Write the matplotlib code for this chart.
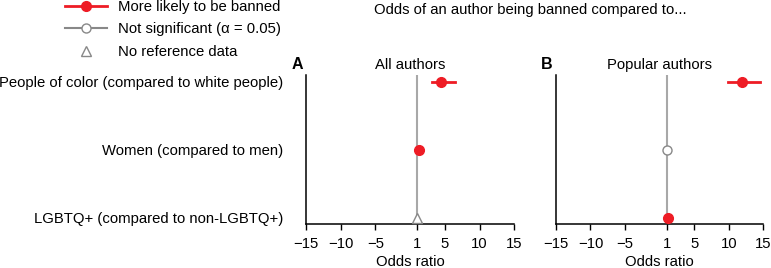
import matplotlib
matplotlib.use("Agg")
import matplotlib.pyplot as plt
from matplotlib.lines import Line2D

plt.rcParams['font.family'] = ['Liberation Sans', 'DejaVu Sans']
plt.rcParams['font.size'] = 10.7

# data
groups = ['People of color (compared to white people)',
          'Women (compared to men)',
          'LGBTQ+ (compared to non-LGBTQ+)']
ypos = [2, 1, 0]

# panel A: all authors  (status: sig / ns / noref)
a_or = [4.5, 1.3, 1.0]
a_lo = [3.2, 1.3, 1.0]
a_hi = [6.5, 1.3, 1.0]
a_status = ['sig', 'sig', 'noref']

# panel B: popular authors
b_or = [11.9, 1.0, 1.2]
b_lo = [9.9, 1.0, 1.2]
b_hi = [14.5, 1.0, 1.2]
b_status = ['sig', 'ns', 'sig']

xticks = [-15, -10, -5, 1, 5, 10, 15]
xticklabels = ['\u221215', '\u221210', '\u22125', '1', '5', '10', '15']

RED = '#ee1c25'
GRAY = '#a8a8a8'

fig = plt.figure(figsize=(7.71, 2.68), dpi=100)
axA = fig.add_axes([0.397, 0.164, 0.270, 0.556])
axB = fig.add_axes([0.721, 0.164, 0.269, 0.556])


def draw(ax, vals, lo, hi, status, letter, title, show_labels):
    ax.axvline(1, color=GRAY, lw=1.5, zorder=1)
    for y, v, l, h, s in zip(ypos, vals, lo, hi, status):
        if s == 'sig':
            ax.plot([l, h], [y, y], color=RED, lw=2, zorder=2)
            ax.plot(v, y, 'o', color=RED, ms=7, zorder=3)
        elif s == 'ns':
            ax.plot([l, h], [y, y], color=GRAY, lw=1.5, zorder=2)
            ax.plot(v, y, 'o', mfc='white', mec='#888888', mew=1.0, ms=6.5, zorder=3)
        else:
            ax.plot(v, y, '^', mfc='white', mec='#888888', mew=1.0, ms=6.5, zorder=3)
    ax.set_xlim(-15, 15)
    ax.set_ylim(-0.09, 2.1)
    ax.set_xticks(xticks)
    ax.set_xticklabels(xticklabels)
    ax.set_yticks(ypos)
    if show_labels:
        ax.set_yticklabels(groups)
    else:
        ax.set_yticklabels([])
    ax.tick_params(axis='y', length=0, pad=16.5)
    ax.tick_params(axis='x', length=4.5, width=1, pad=4.5)
    for sp in ['top', 'right']:
        ax.spines[sp].set_visible(False)
    for sp in ['left', 'bottom']:
        ax.spines[sp].set_linewidth(1.1)
    ax.set_xlabel('Odds ratio', labelpad=3)
    ax.set_title(title, pad=4, fontsize=10.7)
    ax.text(-0.07, 1.02, letter, transform=ax.transAxes, fontweight='bold',
            fontsize=11.5, ha='left', va='bottom')


draw(axA, a_or, a_lo, a_hi, a_status, 'A', 'All authors', True)
draw(axB, b_or, b_lo, b_hi, b_status, 'B', 'Popular authors', False)

fig.text(0.688, 0.962, 'Odds of an author being banned compared to...',
         ha='center', va='center')

handles = [
    Line2D([], [], color=RED, lw=2, marker='o', ms=7),
    Line2D([], [], color='#888888', lw=1.5, marker='o', mfc='white', mec='#888888', ms=6.5),
    Line2D([], [], color='none', marker='^', mfc='white', mec='#888888', ms=6.5),
]
fig.legend(handles, ['More likely to be banned', 'Not significant (\u03b1 = 0.05)',
                     'No reference data'],
           loc='upper left', bbox_to_anchor=(0.067, 1.051), frameon=False,
           handlelength=2.8, handletextpad=0.74, labelspacing=0.58)

fig.savefig('out.png', dpi=100)
